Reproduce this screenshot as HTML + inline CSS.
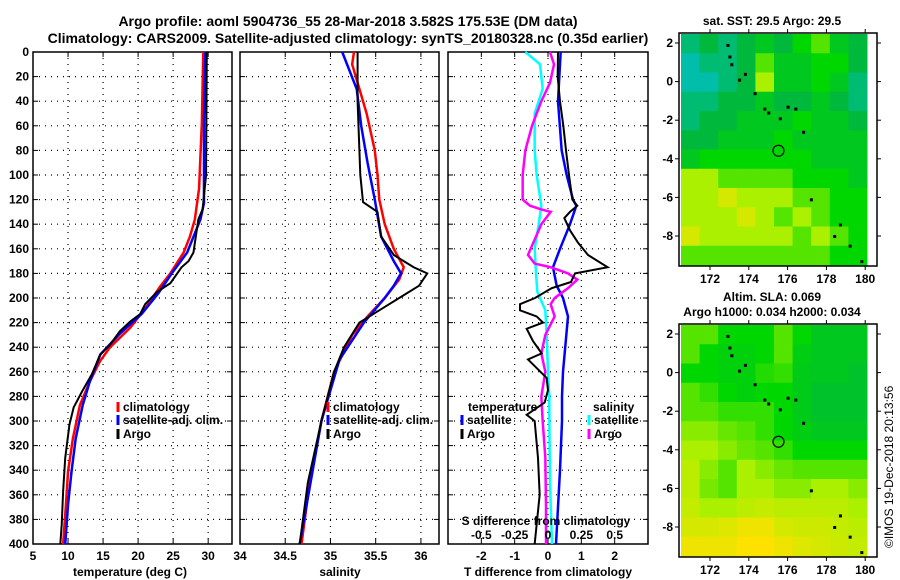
<!DOCTYPE html>
<html><head><meta charset="utf-8">
<style>
html,body{margin:0;padding:0;background:#fff}
svg{display:block;font-family:"Liberation Sans",sans-serif;font-weight:bold}
text{font-size:12px;fill:#000}
</style></head>
<body>
<svg id="c" width="900" height="580" viewBox="0 0 900 580">
<text x="348" y="26" text-anchor="middle" style="font-size:14px">Argo profile: aoml 5904736_55 28-Mar-2018 3.582S 175.53E (DM data)</text>
<text x="348" y="43" text-anchor="middle" style="font-size:14px">Climatology: CARS2009. Satellite-adjusted climatology: synTS_20180328.nc (0.35d earlier)</text>
<text x="772" y="25" text-anchor="middle">sat. SST: 29.5 Argo: 29.5</text>
<text x="772" y="301" text-anchor="middle">Altim. SLA: 0.069</text>
<text x="772" y="316" text-anchor="middle">Argo h1000: 0.034 h2000: 0.034</text>
<text transform="translate(893,548) rotate(-90)" style="font-size:12px;font-weight:normal">©IMOS 19-Dec-2018 20:13:56</text>
</svg>
<script>
const depthTicks=[0,20,40,60,80,100,120,140,160,180,200,220,240,260,280,300,320,340,360,380,400];
const tDepth=[0,100,128,136,163,170,175,188,195,205,213,219,227,238,246,262,276,289,303,330,357,384,400];
const tArgo=[29.8,29.7,29.2,28.6,27.9,27.2,26.2,24.6,22.7,21,20.3,18.9,17.4,16,14.6,13.4,12,10.8,10.2,9.6,9.3,9.1,8.9];
const cDepth=[0,57,111,136,150,163,180,191,207,224,240,251,268,287,314,341,368,400];
const tClim=[29.3,29.1,28.7,28.1,27.4,26.5,24.6,23.1,21.2,18.9,16,14.6,13.1,11.7,10.7,10,9.7,9.3];
const sDepth=[0,57,123,136,163,180,196,213,229,246,268,287,314,341,368,400];
const tSat=[29.6,29.4,29.4,28.9,27,24.8,22.9,20.5,17.4,14.6,13.1,12.1,11.1,10.5,10,9.6];
const saDepth=[0,40,100,122,130,150,165,175,180,190,200,210,220,240,260,300,350,400];
const sArgo=[35.3,35.3,35.33,35.36,35.52,35.56,35.7,35.92,36.07,35.98,35.76,35.54,35.32,35.15,35.04,34.9,34.75,34.66];
const scDepth=[0,10,30,50,80,100,120,140,160,175,185,200,215,230,260,300,350,400];
const sClim=[35.26,35.24,35.32,35.4,35.49,35.52,35.54,35.6,35.7,35.81,35.76,35.6,35.41,35.24,35.04,34.9,34.77,34.68];
const ssDepth=[0,30,60,90,120,150,170,180,190,200,220,250,300,400];
const sSat=[35.13,35.29,35.34,35.41,35.49,35.56,35.7,35.78,35.7,35.6,35.37,35.1,34.9,34.66];
const dDepth=[0,20,40,60,80,100,120,125,130,135,145,155,165,175,180,187,192,200,205,210,215,220,225,235,245,250,265,275,285,295,300,330,360,400];
const dTArgo=[0.3,0.29,0.36,0.46,0.54,0.63,0.73,0.88,0.66,0.49,0.66,0.9,1.2,1.79,0.81,0.69,0.11,-0.39,-0.84,-0.84,-0.34,-0.15,-0.64,-0.45,-0.19,-0.6,-0.04,0,-0.1,-0.64,-0.4,-0.3,-0.25,-0.4];
const d2Depth=[0,40,80,100,120,125,140,160,175,190,200,215,230,260,280,300,340,400];
const dTSat=[0.38,0.3,0.41,0.56,0.75,0.85,0.66,0.36,0.15,0.26,0.45,0.6,0.55,0.45,0.42,0.42,0.36,0.24];
const d3Depth=[0,10,25,40,60,80,100,120,125,128,130,140,155,165,172,175,180,185,192,200,205,215,230,245,260,280,300,330,370,400];
const dSArgo=[0.015,0.045,0.015,-0.05,-0.12,-0.17,-0.19,-0.19,-0.135,-0.05,0.02,-0.05,-0.11,-0.15,-0.1,0.02,0.15,0.22,0.15,0.05,0.02,0.05,-0.02,-0.05,-0.02,-0.05,-0.04,-0.02,-0.015,-0.015];
const d4Depth=[0,10,30,50,80,100,125,140,160,180,195,210,230,260,280,300,350,400];
const dSSat=[-0.17,-0.06,-0.04,-0.1,-0.1,-0.085,-0.05,-0.07,-0.1,-0.09,-0.08,-0.02,-0.01,0,0.01,0.01,0.015,0.03];
const tTicks=[5,10,15,20,25,30];
const sTicks=[34,34.5,35,35.5,36];
const dTTicks=[-2,-1,0,1,2];
const dSTicks=[-0.5,-0.25,0,0.25,0.5];
const lonTicks=[172,174,176,178,180];
const latTicks=[2,0,-2,-4,-6,-8];
const sstGrid=[
[3.5,4,3.5,4,4.5,4,5,5.5,4.5,4],
[3,3.5,3.5,4,5.5,4.5,4.5,5,5,4],
[3,3,3.5,4,6,4.5,4.5,5,4.5,3.5],
[3.5,3.5,4,4,4.5,4,4,4.5,4,3.5],
[3.5,4,4,4.5,4.5,4.5,5,4.5,4.5,4],
[4,4,4.5,4.5,4.5,5,4.5,4.5,4.5,4.5],
[4.5,5,5,5,5,5,5,4.5,4.5,4.5],
[6,6,5.5,5.5,5.5,5.5,5,5,5,4.5],
[6,6,6.5,6,6,6,5.5,5.5,5,5],
[6,6,6,6.5,6,5.5,6,5.5,5,5],
[6.5,6,6,6,6,6,5.5,6,5.5,5],
[5.5,5.5,5.5,5.5,5.5,5.5,5.5,5.5,5,5]];
const slaGrid=[
[5.5,5.5,5,5,5,5.5,5,4.5,4.5,4.5],
[5.5,5,4.8,4.8,5,5.5,4.7,4.5,4.5,4.5],
[5,5,4.8,4.8,5.2,5.3,4.6,4.5,4.5,4.3],
[5.5,5.3,5,4.8,5,5,4.6,4.3,4.3,4.3],
[5.5,5.5,5.3,5.3,5.3,5,4.6,4.3,4.3,4.3],
[5.8,5.8,5.6,5.5,5.3,5,4.7,4.5,4.5,4.5],
[6,6,5.8,5.6,5.5,5.3,5,5,5,5],
[6.2,5.8,5.5,6,5.8,5.6,5.5,5.5,5.5,5.5],
[6.2,5.7,5.5,6,6,5.8,5.8,6,6,5.8],
[6.3,6,6,6.2,6.3,6.2,6.2,6.2,6.2,6],
[6.5,6.5,6.6,6.8,6.8,6.5,6.4,6.4,6.3,6.2],
[6.8,6.8,6.8,7,7,6.8,6.6,6.5,6.4,6.3]];
const islandLon=[172.9,173.0,173.1,173.5,173.8,174.3,174.8,175.0,175.6,176.0,176.4,176.8,177.2,178.4,178.7,179.2,179.8];
const islandLat=[1.9,1.3,0.9,0.1,0.4,-0.6,-1.4,-1.6,-1.9,-1.3,-1.4,-2.6,-6.1,-8.0,-7.4,-8.5,-9.3];

const NS='http://www.w3.org/2000/svg';
const svg=document.getElementById('c');
function E(t,a,p){const e=document.createElementNS(NS,t);for(const k in a)e.setAttribute(k,a[k]);(p||svg).appendChild(e);return e;}
const Y0=52,Y1=544;
const yD=d=>Y0+d/400*(Y1-Y0);
function panel(name,x0,x1,vmin,vmax,ticks,fmt,showY){
  const g=E('g',{});
  
  
  const xs=v=>x0+(v-vmin)/(vmax-vmin)*(x1-x0);
  depthTicks.forEach(d=>{
    if(d>0&&d<400){const l=E('line',{x1:x0,x2:x1,y1:yD(d),y2:yD(d),stroke:'#000','stroke-dasharray':'1 5','stroke-width':1.2},g);
    }
    E('line',{x1:x0,x2:x0+5,y1:yD(d),y2:yD(d),stroke:'#000'},g);
    E('line',{x1:x1-5,x2:x1,y1:yD(d),y2:yD(d),stroke:'#000'},g);
    if(showY){const t=E('text',{x:x0-4,y:yD(d)+4,'text-anchor':'end'},g);t.textContent=d;
      }
  });
  ticks.forEach(v=>{const X=xs(v);
    if(X>x0+1&&X<x1-1){const l=E('line',{x1:X,x2:X,y1:Y0,y2:Y1,stroke:'#000','stroke-dasharray':'1 5','stroke-width':1.2},g);
    }
    E('line',{x1:X,x2:X,y1:Y1-5,y2:Y1,stroke:'#000'},g);E('line',{x1:X,x2:X,y1:Y0,y2:Y0+5,stroke:'#000'},g);
    if(fmt){const t=E('text',{x:X,y:Y1+16,'text-anchor':'middle'},g);t.textContent=fmt(v);
      }
  });
  E('rect',{x:x0,y:Y0,width:x1-x0,height:Y1-Y0,fill:'none',stroke:'#000','stroke-width':1.5},g);
  return xs;
}
function line(xs,vals,deps,col,name,w){
  const p=E('polyline',{points:vals.map((v,i)=>xs(v)+','+yD(deps[i])).join(' '),fill:'none',stroke:col,'stroke-width':w||2.5});
  
}
function txt(x,y,s,name,anchor){const t=E('text',{x:x,y:y,'text-anchor':anchor||'start'});t.textContent=s;
  return t;}
function legend(x,y,col,s,name){const l=E('line',{x1:x,x2:x,y1:y-9,y2:y+1,stroke:col,'stroke-width':3});
  txt(x+5,y,s,name);}

const xT=panel('temperature-panel',33,232,5,33.4,tTicks,v=>v,true);
txt(240,560,'34','s-first-tick','middle');
line(xT,tClim,cDepth,'#f00','temp-climatology-line');
line(xT,tSat,sDepth,'#00f','temp-satellite-line');
line(xT,tArgo,tDepth,'#000','temp-argo-line',2);
txt(130,576,'temperature (deg C)','temperature-axis-title','middle');
legend(118,411,'#f00','climatology','legend-climatology');
legend(118,424,'#00f','satellite-adj. clim.','legend-satellite');
legend(118,438,'#000','Argo','legend-argo');

const xS=panel('salinity-panel',240,439,34,36.2,sTicks,v=>v===34?'':v,false);
line(xS,sClim,scDepth,'#f00','sal-climatology-line');
line(xS,sSat,ssDepth,'#00f','sal-satellite-line');
line(xS,sArgo,saDepth,'#000','sal-argo-line',2);
txt(340,576,'salinity','salinity-axis-title','middle');
legend(328,411,'#f00','climatology','legend2-climatology');
legend(328,424,'#00f','satellite-adj. clim.','legend2-satellite');
legend(328,438,'#000','Argo','legend2-argo');

const xD=panel('difference-panel',448,648,-3,3,dTTicks,v=>v,false);
const xDS=v=>xD(v*4);
line(xDS,dSSat,d4Depth,'#0ff','sdiff-satellite-line');
line(xD,dTSat,d2Depth,'#00f','tdiff-satellite-line');
line(xDS,dSArgo,d3Depth,'#f0f','sdiff-argo-line');
line(xD,dTArgo,dDepth,'#000','tdiff-argo-line',2);
txt(548,576,'T difference from climatology','tdiff-axis-title','middle');
txt(546,525,'S difference from climatology','sdiff-axis-title','middle');
dSTicks.forEach(v=>txt(xDS(v),539,v===0?'0':String(v),'sdiff-tick-label','middle'));
txt(468,411,'temperature','legend3-temp-title');
legend(462,424,'#00f','satellite','legend3-tsat');
legend(462,438,'#000','Argo','legend3-targo');
txt(593,411,'salinity','legend3-sal-title');
legend(589,424,'#0ff','satellite','legend3-ssat');
legend(589,438,'#f0f','Argo','legend3-sargo');

const stops=[[0,0,0,255],[2,0,160,255],[3,0,190,170],[4,0,185,60],[5,0,215,0],[6,170,240,0],[7,255,225,0],[8,255,150,0],[9,200,40,0]];
function cmap(v){for(let i=1;i<stops.length;i++){if(v<=stops[i][0]){const a=stops[i-1],b=stops[i],f=(v-a[0])/(b[0]-a[0]);
  return 'rgb('+[1,2,3].map(k=>Math.round(a[k]+f*(b[k]-a[k]))).join(',')+')';}}return 'rgb(200,40,0)';}
function map(name,fy0,grid){
  const fx0=679,fx1=877,fy1=fy0+233;
  const lonX=l=>710+(l-172)*19.4;
  const latY=l=>fy0+10+(2-l)*19.3;
  const g=E('g',{});
  const cx0=681,cx1=867,cy0=fy0+1,cy1=fy1-1;
  const R=grid.length,C=grid[0].length,cw=(cx1-cx0)/C,ch=(cy1-cy0)/R;
  grid.forEach((row,r)=>row.forEach((v,c)=>{const cell=E('rect',{x:cx0+c*cw,y:cy0+r*ch,width:cw+0.5,height:ch+0.5,fill:cmap(v)},g);
    }));
  islandLon.forEach((lo,i)=>{const d=E('rect',{x:lonX(lo)-1,y:latY(islandLat[i])-1,width:3,height:3,fill:'#000'},g);
    });
  const ci=E('circle',{cx:lonX(175.53),cy:latY(-3.582),r:5.5,fill:'none',stroke:'#000','stroke-width':1.2},g);
  
  E('rect',{x:fx0,y:fy0,width:fx1-fx0,height:fy1-fy0,fill:'none',stroke:'#000','stroke-width':1.5},g);
  lonTicks.forEach(l=>{const X=lonX(l);E('line',{x1:X,x2:X,y1:fy1,y2:fy1+4,stroke:'#000'},g);E('line',{x1:X,x2:X,y1:fy0-4,y2:fy0,stroke:'#000'},g);
    const t=E('text',{x:X,y:fy1+17,'text-anchor':'middle'},g);t.textContent=l;});
  latTicks.forEach(l=>{const Y=latY(l);E('line',{x1:fx0-4,x2:fx0,y1:Y,y2:Y,stroke:'#000'},g);E('line',{x1:fx1,x2:fx1+4,y1:Y,y2:Y,stroke:'#000'},g);
    const t=E('text',{x:fx0-6,y:Y+4,'text-anchor':'end'},g);t.textContent=l;});
}
map('sst-map',33,sstGrid);
map('sla-map',324,slaGrid);
</script>
</body></html>
